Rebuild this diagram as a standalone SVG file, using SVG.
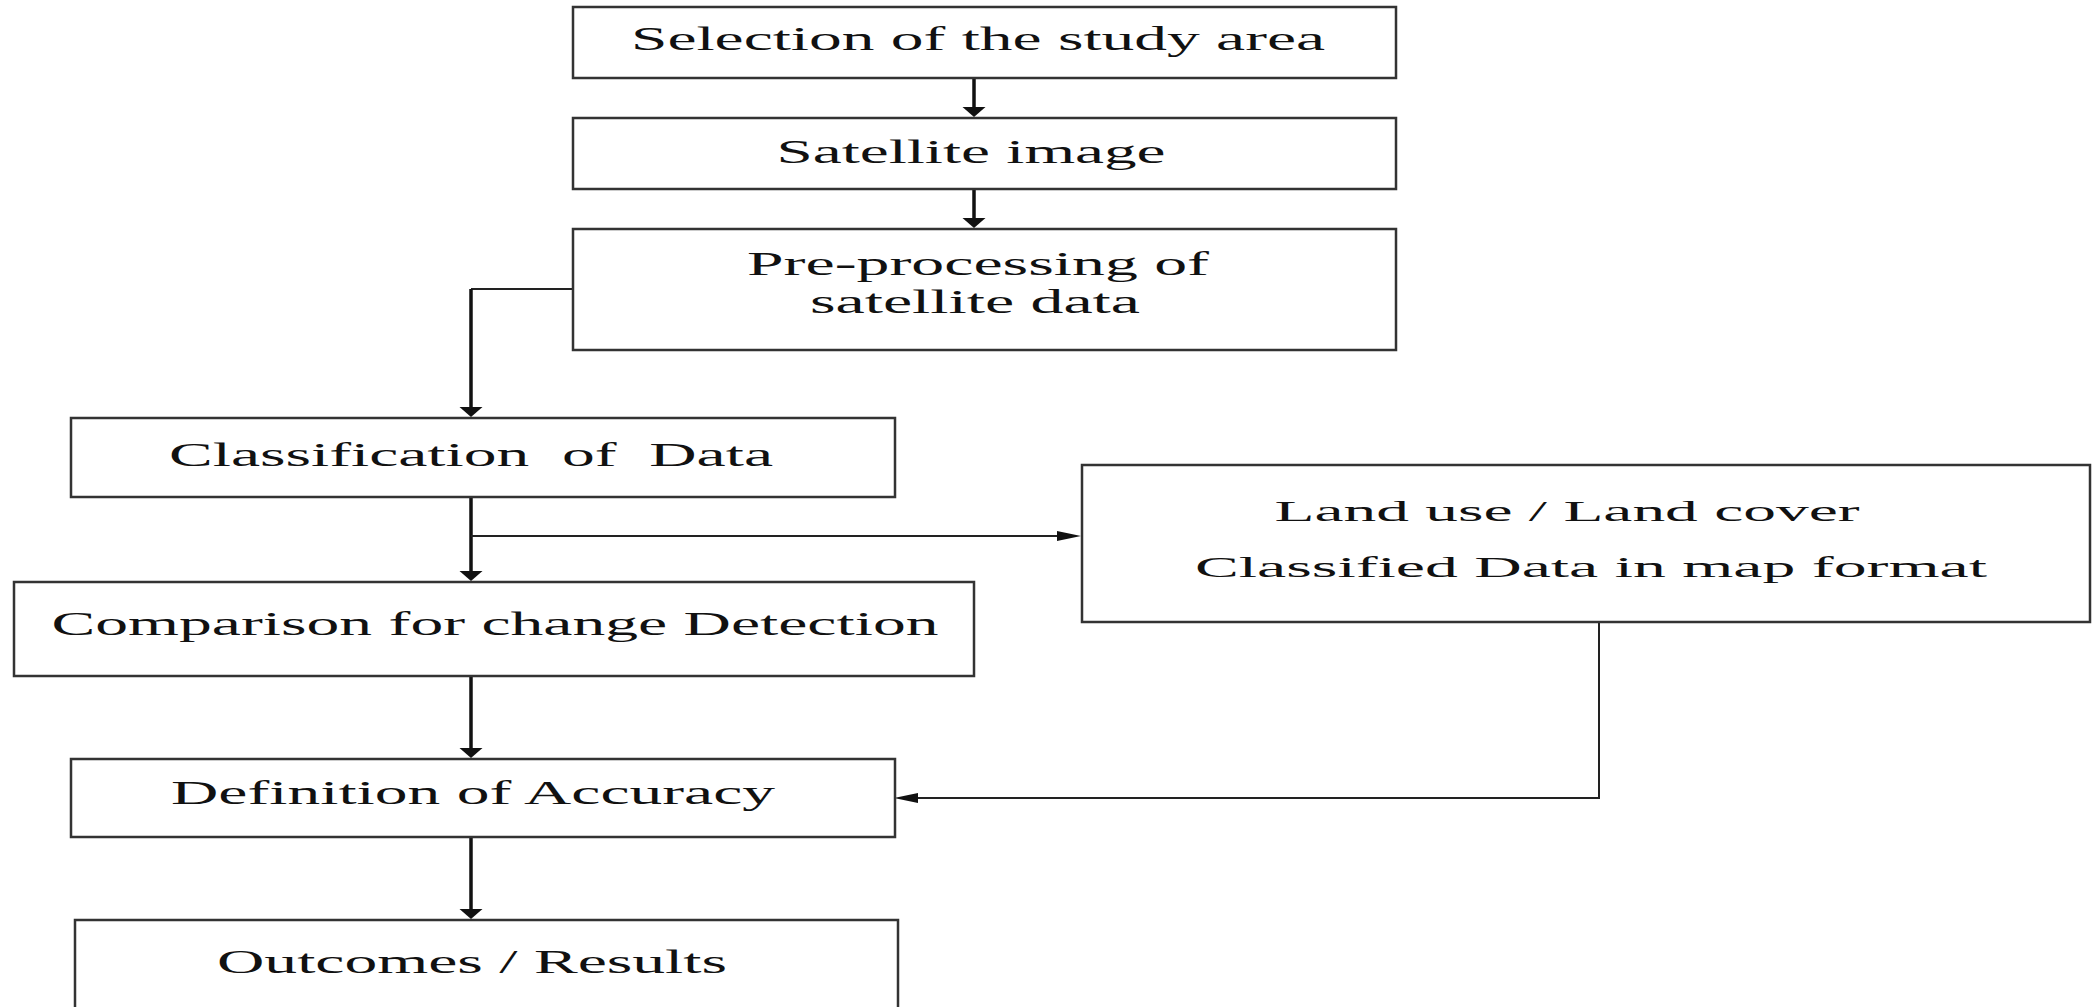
<svg xmlns="http://www.w3.org/2000/svg" width="2092" height="1007" viewBox="0 0 2092 1007">
<style>
.box{fill:#fff;stroke:#333;stroke-width:2.5}
.t{font-family:"Liberation Serif","Times New Roman",serif;font-size:33px;fill:#111}
.s{font-size:30px}
.c{fill:none;stroke:#111;stroke-width:3.5}
.h{fill:none;stroke:#222;stroke-width:2}
</style>
<defs>
<marker id="ad" markerUnits="userSpaceOnUse" markerWidth="24" markerHeight="11" refX="11.5" refY="4" orient="0" overflow="visible"><path d="M0,0 L23,0 L11.5,10 Z" fill="#111"/></marker>
<marker id="ar" markerUnits="userSpaceOnUse" markerWidth="25" markerHeight="11" refX="18" refY="5" orient="0" overflow="visible"><path d="M0,0 L24,5 L0,10 Z" fill="#111"/></marker>
<marker id="al" markerUnits="userSpaceOnUse" markerWidth="25" markerHeight="11" refX="6" refY="5" orient="0" overflow="visible"><path d="M24,0 L0,5 L24,10 Z" fill="#111"/></marker>
</defs>
<rect width="2092" height="1007" fill="#fff"/>
<g id="connectors">
<path class="c" d="M974,78 V111" marker-end="url(#ad)"/>
<path class="c" d="M974,189 V222" marker-end="url(#ad)"/>
<path class="h" d="M574,289 H471"/>
<path class="c" d="M471,289 V411" marker-end="url(#ad)"/>
<path class="c" d="M471,497 V575" marker-end="url(#ad)"/>
<path class="h" d="M471,536 H1075" marker-end="url(#ar)"/>
<path class="c" d="M471,676 V752" marker-end="url(#ad)"/>
<path class="h" d="M1599,622 V798 H900" marker-end="url(#al)"/>
<path class="c" d="M471,837 V913" marker-end="url(#ad)"/>
</g>
<g id="n1"><rect class="box" x="573" y="7" width="823" height="71"/><text class="t" x="978" y="50" text-anchor="middle" textLength="694" lengthAdjust="spacingAndGlyphs">Selection of the study area</text></g>
<g id="n2"><rect class="box" x="573" y="118" width="823" height="71"/><text class="t" x="971" y="163" text-anchor="middle" textLength="389" lengthAdjust="spacingAndGlyphs">Satellite image</text></g>
<g id="n3"><rect class="box" x="573" y="229" width="823" height="121"/><text class="t" x="978" y="275" text-anchor="middle" textLength="462" lengthAdjust="spacingAndGlyphs">Pre-processing of</text><text class="t" x="975" y="313" text-anchor="middle" textLength="330" lengthAdjust="spacingAndGlyphs">satellite data</text></g>
<g id="n4"><rect class="box" x="71" y="418" width="824" height="79"/><text class="t" x="471" y="466" text-anchor="middle" textLength="604" lengthAdjust="spacingAndGlyphs" xml:space="preserve">Classification  of  Data</text></g>
<g id="n5"><rect class="box" x="1082" y="465" width="1008" height="157"/><text class="t s" x="1567" y="521" text-anchor="middle" textLength="585" lengthAdjust="spacingAndGlyphs">Land use / Land cover</text><text class="t s" x="1591" y="577" text-anchor="middle" textLength="792" lengthAdjust="spacingAndGlyphs">Classified Data in map format</text></g>
<g id="n6"><rect class="box" x="14" y="582" width="960" height="94"/><text class="t" x="495" y="635" text-anchor="middle" textLength="887" lengthAdjust="spacingAndGlyphs">Comparison for change Detection</text></g>
<g id="n7"><rect class="box" x="71" y="759" width="824" height="78"/><text class="t" x="473" y="804" text-anchor="middle" textLength="604" lengthAdjust="spacingAndGlyphs">Definition of Accuracy</text></g>
<g id="n8"><rect class="box" x="75" y="920" width="823" height="95"/><text class="t" x="472" y="973" text-anchor="middle" textLength="510" lengthAdjust="spacingAndGlyphs">Outcomes / Results</text></g>
</svg>
